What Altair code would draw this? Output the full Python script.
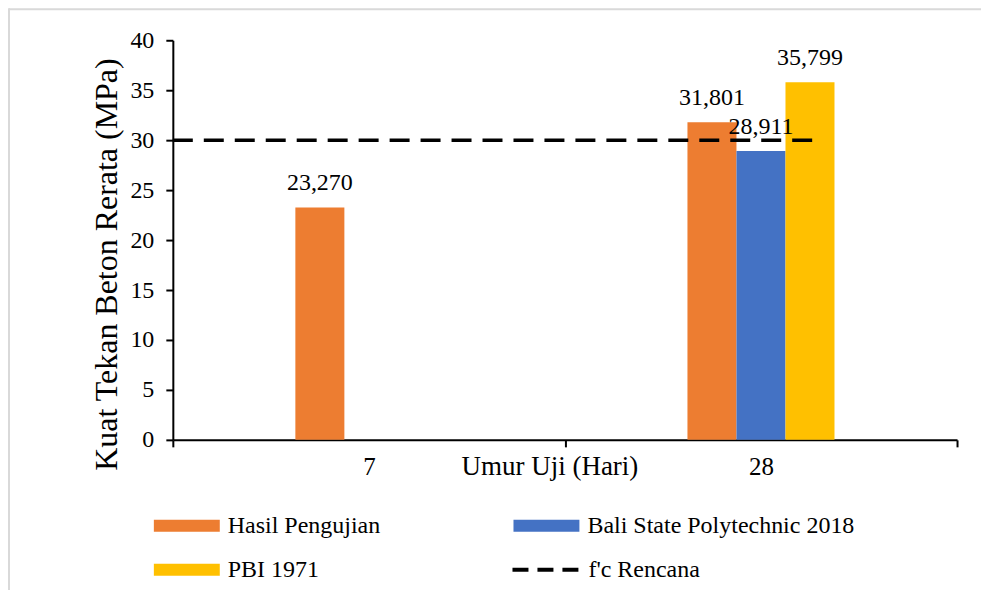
import altair as alt
import pandas as pd

# ---- data ----
umur = ["7", "28"]
seri = ["Hasil Pengujian", "Bali State Polytechnic 2018", "PBI 1971"]
hasil_pengujian = [23.270, 31.801]
bali_2018 = [None, 28.911]
pbi_1971 = [None, 35.799]
fc_rencana = 30
warna = {"Hasil Pengujian": "#ED7D31", "Bali State Polytechnic 2018": "#4472C4",
         "PBI 1971": "#FFC000"}
y_ticks = [0, 5, 10, 15, 20, 25, 30, 35, 40]

rows = []
for s, vals in zip(seri, [hasil_pengujian, bali_2018, pbi_1971]):
    for u, v in zip(umur, vals):
        if v is not None:
            rows.append({"umur": u, "seri": s, "nilai": v,
                         "label": f"{v:.3f}".replace(".", ",")})
df = pd.DataFrame(rows)

# empty slots either side of each group of bars (Excel gap width)
slot_domain = ["_g1", "_g2"] + seri + ["_g3", "_g4"]
# legend is filled column by column: col 1 = Hasil, PBI ; col 2 = Bali
legend_order = ["Hasil Pengujian", "PBI 1971", "Bali State Polytechnic 2018"]

FONT = "Liberation Serif"
YTITLE = "Kuat Tekan Beton Rerata (MPa)"

x_enc = alt.X("umur:N", sort=umur,
              scale=alt.Scale(paddingInner=0, paddingOuter=0),
              axis=alt.Axis(title="Umur Uji (Hari)", labelAngle=0, tickBand="extent",
                            domainColor="black", domainWidth=2, tickColor="black",
                            tickWidth=2, tickSize=7, labelFont=FONT, labelFontSize=25,
                            labelColor="black", labelPadding=28, labelBaseline="alphabetic",
                            titleFont=FONT, titleFontSize=27, titleFontWeight="normal",
                            titleColor="black", titleX=377, titleY=35,
                            titleBaseline="alphabetic"))
xo_enc = alt.XOffset("seri:N",
                     scale=alt.Scale(domain=slot_domain, paddingOuter=0.5, paddingInner=0))
y_axis = alt.Axis(values=y_ticks, grid=False, domainColor="black", domainWidth=2,
                  tickColor="black", tickWidth=2, tickSize=7, labelFont=FONT,
                  labelFontSize=24, labelColor="black", labelPadding=12,
                  titleFont=FONT, titleFontSize=32, titleFontWeight="normal",
                  titleColor="black", titleX=-56, titleY=224,
                  titleBaseline="alphabetic", titleAngle=270)
y_scale = alt.Scale(domain=[0, 40], nice=False)

frame_data = pd.DataFrame({"f": [0]})
frame_top = alt.Chart(frame_data).mark_rule(stroke="#d9d9d9", strokeWidth=2).encode(
    x=alt.value(-164), x2=alt.value(1000), y=alt.value(-31))
frame_left = alt.Chart(frame_data).mark_rule(stroke="#d9d9d9", strokeWidth=2).encode(
    x=alt.value(-164), y=alt.value(-32), y2=alt.value(700))

bars = alt.Chart(df).mark_bar().encode(
    x=x_enc,
    xOffset=xo_enc,
    y=alt.Y("nilai:Q", scale=y_scale, axis=y_axis, title=YTITLE),
    fill=alt.Fill("seri:N", sort=legend_order,
                  scale=alt.Scale(domain=legend_order,
                                  range=[warna[s] for s in legend_order]),
                  legend=alt.Legend(title=None, orient="none", legendX=2, legendY=474,
                                    columns=2, columnPadding=133, rowPadding=20,
                                    symbolType="M-5.5,-1H5.5V1H-5.5Z", symbolSize=144,
                                    symbolStrokeWidth=0, labelOffset=29,
                                    labelFont=FONT, labelFontSize=24, labelColor="black",
                                    labelLimit=400)),
)

labels = alt.Chart(df).mark_text(font=FONT, fontSize=24, color="black",
                                 baseline="alphabetic", dy=-17).encode(
    x=alt.X("umur:N", sort=umur),
    xOffset=alt.XOffset("seri:N"),
    y=alt.Y("nilai:Q", title=YTITLE),
    text="label:N",
)

rule = alt.Chart(pd.DataFrame({"fc": [fc_rencana], "nama": ["f'c Rencana"]})).mark_rule(
    strokeDash=[20, 11], strokeWidth=3.5
).encode(
    y=alt.Y("fc:Q", title=YTITLE),
    x=alt.value(0), x2=alt.value(640),
    stroke=alt.Stroke("nama:N", scale=alt.Scale(domain=["f'c Rencana"], range=["black"]),
                      legend=alt.Legend(title=None, orient="none", legendX=361, legendY=518,
                                        symbolType="M-5.5,0H5.5", symbolSize=144,
                                        symbolStrokeWidth=4, symbolDash=[16, 9],
                                        labelOffset=31, labelFont=FONT, labelFontSize=24,
                                        labelColor="black", labelLimit=400)),
)

chart = alt.layer(frame_top, frame_left, bars, rule, labels).properties(
    width=785, height=400,
    autosize=alt.AutoSizeParams(type="none"),
    padding={"left": 165, "top": 32, "right": 24, "bottom": 150},
    background="white",
).configure_view(stroke=None)

chart.save("out.html", embed_options={"renderer": "svg", "actions": False})
